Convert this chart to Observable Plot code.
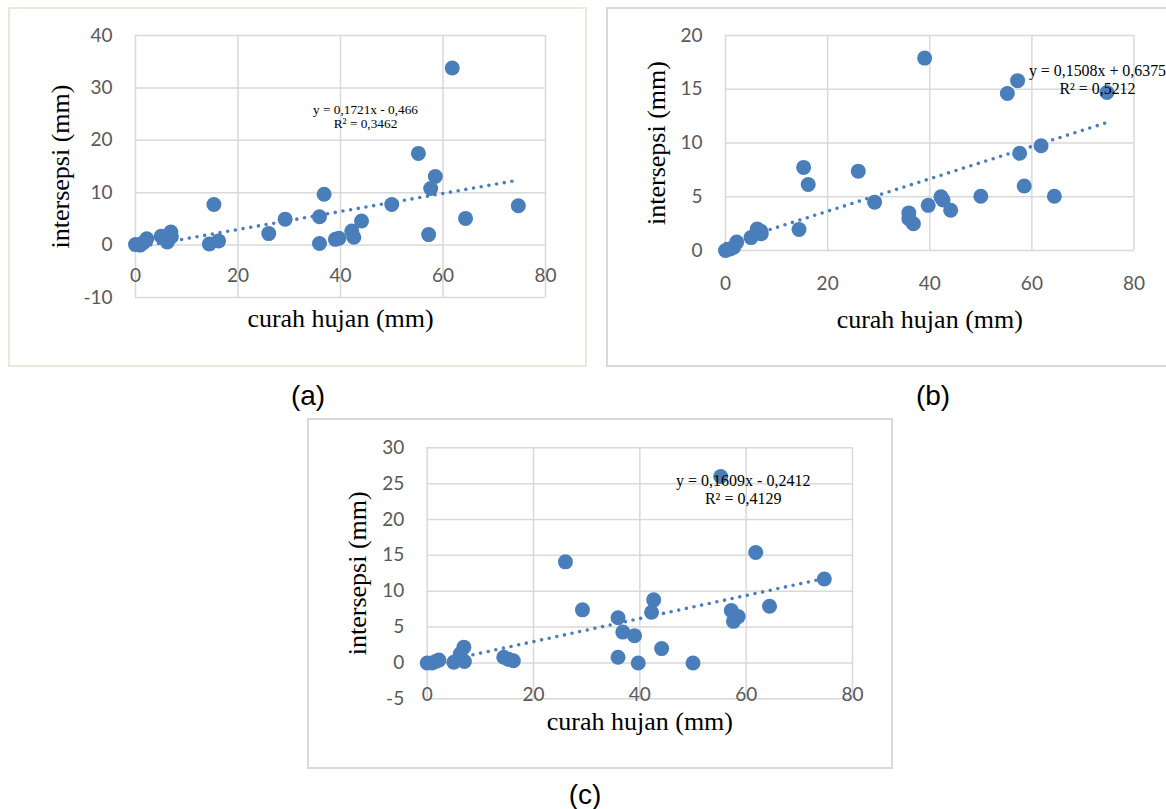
<!DOCTYPE html>
<html><head><meta charset="utf-8">
<script src="https://cdn.jsdelivr.net/npm/d3@7"></script>
<script src="https://cdn.jsdelivr.net/npm/@observablehq/plot@0.6"></script>
<style>
body{margin:0;background:#fff;}
#page{position:relative;width:1166px;height:809px;overflow:hidden;background:#fff;}
.panel{position:absolute;}
.frame{position:absolute;box-sizing:border-box;pointer-events:none;}
.tag{position:absolute;font-family:"Liberation Sans",Arial,sans-serif;font-size:28px;color:#000;transform:translate(-50%,-50%);line-height:1;white-space:nowrap;}
</style></head><body><div id="page"></div>
<script>
// rainfall (x) shared by all three panels
const rain = [0, 0.9, 1.6, 2.2, 5.0, 6.2, 6.9, 7.0, 14.4, 15.3, 16.2, 26.0, 29.2, 35.9, 35.9, 36.8, 39.0, 39.7, 42.2, 42.6, 44.1, 50.0, 55.2, 57.2, 57.6, 58.5, 61.8, 64.4, 74.7];
// interception values per panel
const interA = [0.1, 0, 0.5, 1.2, 1.7, 0.6, 2.5, 1.6, 0.2, 7.75, 0.8, 2.2, 4.95, 5.4, 0.3, 9.7, 1.1, 1.3, 2.7, 1.5, 4.6, 7.75, 17.5, 2.0, 10.8, 13.1, 33.8, 5.1, 7.5];
const interB = [0, 0.15, 0.3, 0.78, 1.2, 2.0, 1.8, 1.56, 1.96, 7.73, 6.14, 7.38, 4.5, 3.5, 2.96, 2.49, 17.9, 4.2, 5.0, 4.7, 3.74, 5.05, 14.6, 15.8, 9.04, 6.0, 9.75, 5.05, 14.7];
const interC = [0, 0, 0.2, 0.4, 0.1, 1.25, 2.2, 0.2, 0.8, 0.5, 0.3, 14.1, 7.4, 6.3, 0.8, 4.3, 3.8, 0, 7.06, 8.8, 2.0, 0, 26.0, 7.3, 5.8, 6.46, 15.4, 7.9, 11.7];
// ticks
const xTicks = [0, 20, 40, 60, 80];
const yTicksA = [-10, 0, 10, 20, 30, 40];
const yTicksB = [0, 5, 10, 15, 20];
const yTicksC = [-5, 0, 5, 10, 15, 20, 25, 30];
// trendline coefficients (from labels)
const slopes = [0.1721, 0.1508, 0.1609];
const intercepts = [-0.466, 0.6375, -0.2412];
const eqLabels = [
  ["y = 0,1721x - 0,466", "R² = 0,3462"],
  ["y = 0,1508x + 0,6375", "R² = 0,5212"],
  ["y = 0,1609x - 0,2412", "R² = 0,4129"]
];
const tags = ["(a)", "(b)", "(c)"];
const xTitle = "curah hujan (mm)";
const yTitle = "intersepsi (mm)";

const BLUE = "#4a7ebb";
const GRID = "#d9d9d9";

const layout = [
  {y: interA, yTicks: yTicksA, yDomain: [-10, 40], box: {left: 8, top: 7, width: 579, height: 360}, border: "#ebe7dc",
   m: {top: 28, right: 42, bottom: 70, left: 127}, xLabDy: 31, xTitleDy: 21, yTitleDx: -75,
   eq: {dx: 230, dy: 74, gap: 14.7, size: 13.3}, tag: {x: 308, y: 396}},
  {y: interB, yTicks: yTicksB, yDomain: [0, 20], box: {left: 606, top: 7, width: 560, height: 360}, border: GRID,
   m: {top: 28, right: 32.5, bottom: 117, left: 119}, xLabDy: 33, xTitleDy: 69, yTitleDx: -69,
   eq: {dx: 372, dy: 35, gap: 18, size: 15.9}, tag: {x: 933, y: 396}, noRight: true},
  {y: interC, yTicks: yTicksC, yDomain: [-5, 30], box: {left: 307, top: 418, width: 586, height: 351}, border: GRID,
   m: {top: 29.3, right: 41, bottom: 70.7, left: 119.7}, xLabDy: 32, xTitleDy: 23, yTitleDx: -70,
   eq: {dx: 316, dy: 32.7, gap: 18.3, size: 16}, tag: {x: 585, y: 795}}
];

const page = document.getElementById("page");

layout.forEach((p, k) => {
  const data = rain.map((x, i) => ({x, y: p.y[i]}));
  const ext = d3.extent(rain);
  const trend = ext.map(x => ({x, y: slopes[k] * x + intercepts[k]}));
  const tickFont = {fontSize: 19, fill: "#595959", fontFamily: "Lato, 'Open Sans', sans-serif"};
  const serif = "'Liberation Serif', 'Times New Roman', serif";
  const marks = [
    Plot.ruleX(xTicks, {x: d => d, stroke: GRID, strokeWidth: 1.5}),
    Plot.ruleY(p.yTicks, {y: d => d, stroke: GRID, strokeWidth: 1.5}),
    Plot.text(p.yTicks, {frameAnchor: "left", y: d => d, text: d => String(d), textAnchor: "end", dx: -23, ...tickFont}),
    Plot.text(xTicks, {x: d => d, y: () => 0, text: d => String(d), dy: p.xLabDy, lineAnchor: "middle", textAnchor: "middle", ...tickFont}),
    Plot.dot(data, {x: "x", y: "y", r: 7.5, fill: BLUE}),
    Plot.line(trend, {x: "x", y: "y", stroke: BLUE, strokeWidth: 3.6, strokeDasharray: "0 7.8", strokeLinecap: "round"}),
    Plot.text([xTitle], {frameAnchor: "bottom", text: d => d, dy: p.xTitleDy, lineAnchor: "middle", textAnchor: "middle", fontSize: 26, fontFamily: serif, fill: "#000"}),
    Plot.text([yTitle], {frameAnchor: "left", text: d => d, dx: p.yTitleDx, rotate: -90, lineAnchor: "middle", textAnchor: "middle", fontSize: 26, fontFamily: serif, fill: "#000"})
  ];
  eqLabels[k].forEach((t, i) => {
    marks.push(Plot.text([t], {frameAnchor: "top-left", text: d => d, dx: p.eq.dx, dy: p.eq.dy + i * p.eq.gap,
      textAnchor: "middle", lineAnchor: "middle", fontSize: p.eq.size, fontFamily: serif, fill: "#000"}));
  });
  const chart = Plot.plot({
    width: p.box.width, height: p.box.height,
    marginTop: p.m.top, marginRight: p.m.right, marginBottom: p.m.bottom, marginLeft: p.m.left,
    x: {domain: [0, 80], axis: null},
    y: {domain: p.yDomain, axis: null},
    style: {background: "transparent", overflow: "visible", fontFamily: "Lato, sans-serif"},
    marks
  });
  const wrap = document.createElement("div");
  wrap.className = "panel";
  Object.assign(wrap.style, {left: p.box.left + "px", top: p.box.top + "px", width: p.box.width + "px", height: p.box.height + "px"});
  wrap.appendChild(chart);
  page.appendChild(wrap);
  const fr = document.createElement("div");
  fr.className = "frame";
  Object.assign(fr.style, {left: p.box.left + "px", top: p.box.top + "px", width: p.box.width + "px", height: p.box.height + "px",
    border: "2px solid " + p.border});
  if (p.noRight) fr.style.borderRight = "none";
  page.appendChild(fr);
  const tg = document.createElement("div");
  tg.className = "tag";
  tg.textContent = tags[k];
  tg.style.left = p.tag.x + "px";
  tg.style.top = p.tag.y + "px";
  page.appendChild(tg);
});
</script></body></html>
